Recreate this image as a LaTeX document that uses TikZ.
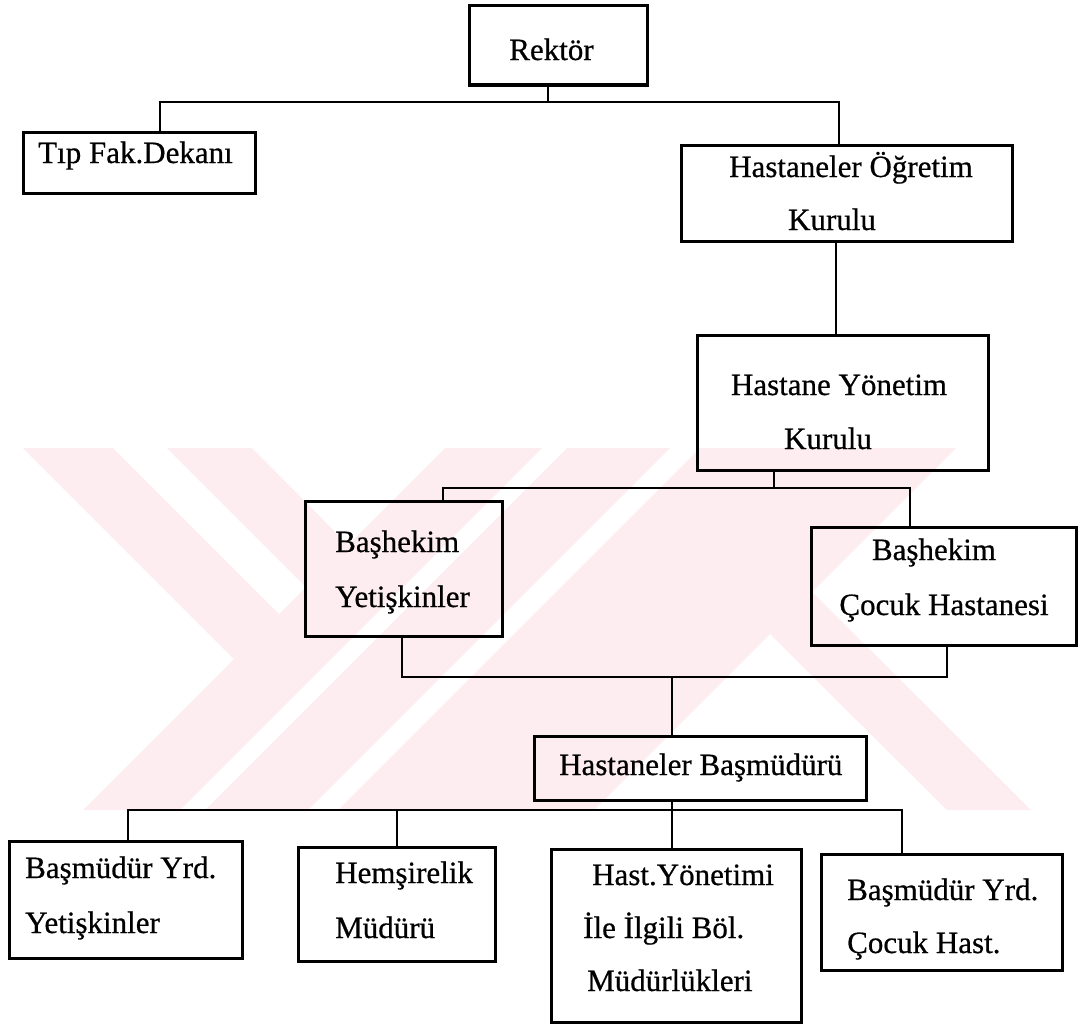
\documentclass[tikz,border=0pt]{standalone}
\usepackage{fontspec}
\setmainfont{Liberation Serif}
\newfontfamily\lblfont{Liberation Serif}[FakeBold=0.6]
\definecolor{wmark}{RGB}{253,237,240}
\begin{document}
\begin{tikzpicture}[x=1pt,y=-1pt]
\tikzset{
  box/.style={draw=black, line width=3pt, inner sep=0pt},
  wire/.style={draw=black, line width=2.8pt},
  lbl/.style={inner sep=0pt, font=\lblfont\fontsize{31}{37}\selectfont, anchor=base west},
  lblc/.style={inner sep=0pt, font=\lblfont\fontsize{31}{37}\selectfont, anchor=base},
}
\useasboundingbox (0,0) rectangle (1079,1025);
\fill[white] (0,0) rectangle (1079,1025);

% faint background emblem, cut to a horizontal strip
\begin{scope}
  \clip (0,448) rectangle (1079,810);
  \fill[wmark] (23,448) -- (113,448) -- (279,614) -- (234,659) -- cycle;
  \fill[wmark] (167,448) -- (252,448) -- (348,545) -- (306,587) -- cycle;
  \fill[wmark] (445,448) -- (542,448) -- (180,810) -- (83,810) -- cycle;
  \fill[wmark] (567,448) -- (670,448) -- (308,810) -- (205,810) -- cycle;
  \fill[wmark] (700,448) -- (956,448) -- (594,810) -- (338,810) -- cycle;
  \fill[wmark] (770,634) -- (812,592) -- (1031,810) -- (947,810) -- cycle;
\end{scope}

% boxes
\node[box, minimum width=178, minimum height=79]  (rek) at (558,45.5) {};
\node[box, minimum width=232, minimum height=61]  (tip) at (139,162.5) {};
\node[box, minimum width=331, minimum height=96]  (hok) at (846.5,193) {};
\node[box, minimum width=291, minimum height=135] (hyk) at (842.5,402.5) {};
\node[box, minimum width=197, minimum height=135] (by)  at (403.5,568.5) {};
\node[box, minimum width=265, minimum height=118] (bc)  at (943.5,586) {};
\node[box, minimum width=332, minimum height=64]  (hb)  at (700,768) {};
\node[box, minimum width=233, minimum height=117] (x1)  at (125.5,899.5) {};
\node[box, minimum width=197, minimum height=114] (x2)  at (396.5,904) {};
\node[box, minimum width=250, minimum height=173] (x3)  at (676,935.5) {};
\node[box, minimum width=241, minimum height=116] (x4)  at (941.5,912) {};

% texts
\node[lblc] (trek)  at (551.5,60) {Rektör};
\node[lbl]  (ttip)  at (38,163) {Tıp Fak.Dekanı};
\node[lblc] (thok1) at (851,177) {Hastaneler Öğretim};
\node[lblc] (thok2) at (832,230) {Kurulu};
\node[lblc] (thyk1) at (839,395) {Hastane Yönetim};
\node[lblc] (thyk2) at (828,449) {Kurulu};
\node[lbl]  (tby1)  at (335,552) {Başhekim};
\node[lbl]  (tby2)  at (335,607) {Yetişkinler};
\node[lblc] (tbc1)  at (934,560) {Başhekim};
\node[lblc] (tbc2)  at (944,615) {Çocuk Hastanesi};
\node[lbl]  (thb)   at (559,775) {Hastaneler Başmüdürü};
\node[lbl]  (tx11)  at (25,878) {Başmüdür Yrd.};
\node[lbl]  (tx12)  at (25,933) {Yetişkinler};
\node[lbl]  (tx21)  at (335,883) {Hemşirelik};
\node[lbl]  (tx22)  at (335,938) {Müdürü};
\node[lbl]  (tx31)  at (592,885) {Hast.Yönetimi};
\node[lbl]  (tx32)  at (583,938) {İle İlgili Böl.};
\node[lbl]  (tx33)  at (587,991) {Müdürlükleri};
\node[lbl]  (tx41)  at (847,900) {Başmüdür Yrd.};
\node[lbl]  (tx42)  at (847,953) {Çocuk Hast.};

% junction points of the connector lines
\coordinate (r1) at (548,102);
\coordinate (t1) at (160,102);
\coordinate (h1) at (839,102);
\coordinate (k1) at (836,300);
\coordinate (y2) at (774,488);
\coordinate (a2) at (443,488);
\coordinate (c2) at (910,488);
\coordinate (a3) at (402,677);
\coordinate (c3) at (947,677);
\coordinate (m3) at (672,677);
\coordinate (m4) at (672,810);
\coordinate (d1) at (128,810);
\coordinate (d2) at (397,810);
\coordinate (d4) at (902,810);

% connectors
\draw[wire] (rek.south -| r1) -- (r1);
\draw[wire] (tip.north -| t1) -- (t1) -- (h1) -- (hok.north -| h1);
\draw[wire] (hok.south -| k1) -- (hyk.north -| k1);
\draw[wire] (hyk.south -| y2) -- (y2);
\draw[wire] (by.north -| a2) -- (a2) -- (c2) -- (bc.north -| c2);
\draw[wire] (by.south -| a3) -- (a3) -- (c3) -- (bc.south -| c3);
\draw[wire] (m3) -- (hb.north -| m3);
\draw[wire] (hb.south -| m4) -- (m4);
\draw[wire] (x1.north -| d1) -- (d1) -- (d4) -- (x4.north -| d4);
\draw[wire] (x2.north -| d2) -- (d2);
\draw[wire] (x3.north -| m4) -- (m4);
\end{tikzpicture}
\end{document}
